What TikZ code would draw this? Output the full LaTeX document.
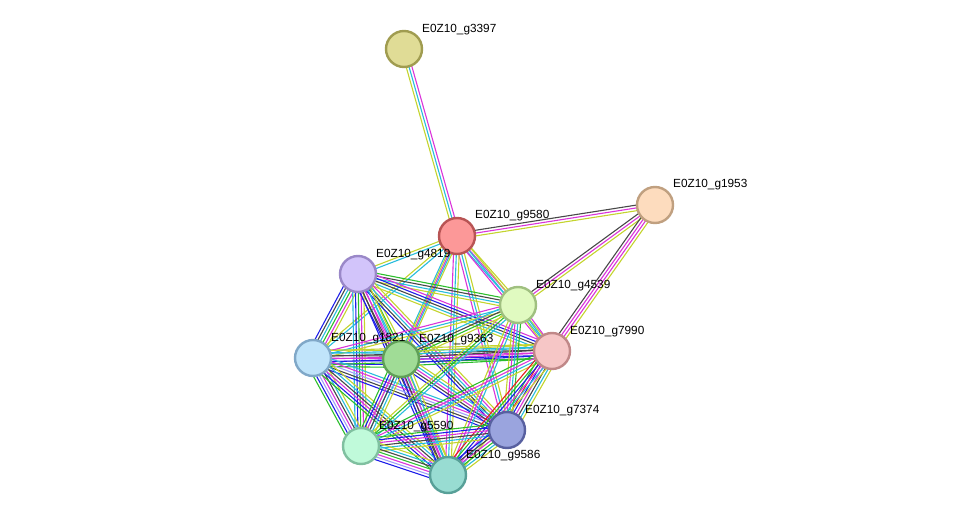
\documentclass[tikz,border=0pt]{standalone}
\usepackage{fontspec}
\setmainfont{Liberation Sans}
\usetikzlibrary{calc}
\pgfdeclarelayer{bg}
\pgfsetlayers{bg,main}
\definecolor{tm}{RGB}{196,212,46}
\definecolor{db}{RGB}{40,188,220}
\definecolor{ex}{RGB}{218,52,218}
\definecolor{cx}{RGB}{72,72,72}
\definecolor{co}{RGB}{30,30,232}
\definecolor{nb}{RGB}{44,190,44}
\definecolor{hm}{RGB}{160,160,250}
\definecolor{fu}{RGB}{232,32,32}
\definecolor{f3397}{RGB}{224,220,150}\definecolor{d3397}{RGB}{160,156,80}
\definecolor{f9580}{RGB}{252,152,152}\definecolor{d9580}{RGB}{184,84,84}
\definecolor{f1953}{RGB}{253,220,190}\definecolor{d1953}{RGB}{192,160,128}
\definecolor{f4819}{RGB}{210,196,250}\definecolor{d4819}{RGB}{154,136,200}
\definecolor{f4539}{RGB}{224,250,192}\definecolor{d4539}{RGB}{160,192,128}
\definecolor{f7990}{RGB}{246,198,198}\definecolor{d7990}{RGB}{192,136,136}
\definecolor{f1821}{RGB}{192,228,250}\definecolor{d1821}{RGB}{128,168,200}
\definecolor{f9363}{RGB}{160,220,150}\definecolor{d9363}{RGB}{96,160,88}
\definecolor{f7374}{RGB}{154,164,222}\definecolor{d7374}{RGB}{88,96,160}
\definecolor{f5590}{RGB}{192,250,218}\definecolor{d5590}{RGB}{128,192,160}
\definecolor{f9586}{RGB}{152,220,210}\definecolor{d9586}{RGB}{88,160,152}
\tikzset{
  prot/.style={circle, minimum size=36pt, inner sep=0pt, line width=2.4pt, fill=f#1, draw=d#1},
  lab/.style={anchor=west, inner sep=0pt, font=\fontsize{11.8}{13}\selectfont, text=black},
  eline/.style={line width=1.1pt}
}
\newcommand\sedge[3]{%
  \foreach \c [count=\i] in {#3} {\xdef\ncount{\i}}%
  \foreach \c [count=\i] in {#3} {%
    \pgfmathsetmacro\off{(\i-(\ncount+1)/2)*2.8}%
    \draw[\c, eline] ($(#1.center)!\off pt!90:(#2.center)$) -- ($(#2.center)!\off pt!-90:(#1.center)$);
  }%
}
\begin{document}
\begin{tikzpicture}[x=1pt,y=-1pt]
\useasboundingbox (0,0) rectangle (975,521);
\node[prot=3397] (n3397) at (404,49) {};
\node[prot=9580] (n9580) at (457,236) {};
\node[prot=1953] (n1953) at (655,205) {};
\node[prot=4819] (n4819) at (358,274) {};
\node[prot=4539] (n4539) at (518,305) {};
\node[prot=7990] (n7990) at (552,351) {};
\node[prot=1821] (n1821) at (313,358) {};
\node[prot=9363] (n9363) at (401,359) {};
\node[prot=7374] (n7374) at (507,430) {};
\node[prot=5590] (n5590) at (361,446) {};
\node[prot=9586] (n9586) at (448,475) {};
\node[lab] (l3397) at ($(n3397)+(18,-19.5)$) {E0Z10\_g3397};
\node[lab] (l9580) at ($(n9580)+(18,-20.5)$) {E0Z10\_g9580};
\node[lab] (l1953) at ($(n1953)+(18,-20.5)$) {E0Z10\_g1953};
\node[lab] (l4819) at ($(n4819)+(18,-19.5)$) {E0Z10\_g4819};
\node[lab] (l4539) at ($(n4539)+(18,-19.5)$) {E0Z10\_g4539};
\node[lab] (l7990) at ($(n7990)+(18,-19.5)$) {E0Z10\_g7990};
\node[lab] (l1821) at ($(n1821)+(18,-19.5)$) {E0Z10\_g1821};
\node[lab] (l9363) at ($(n9363)+(18,-19.5)$) {E0Z10\_g9363};
\node[lab] (l7374) at ($(n7374)+(18,-19.5)$) {E0Z10\_g7374};
\node[lab] (l5590) at ($(n5590)+(18,-19.5)$) {E0Z10\_g5590};
\node[lab] (l9586) at ($(n9586)+(18,-19.5)$) {E0Z10\_g9586};
\begin{pgfonlayer}{bg}
\sedge{n3397}{n9580}{tm,db,ex}
\sedge{n9580}{n1953}{tm,ex,cx}
\sedge{n1953}{n4539}{cx,ex,tm}
\sedge{n1953}{n7990}{cx,ex,ex,tm}
\sedge{n9580}{n4819}{tm,db}
\sedge{n9580}{n4539}{db,ex,tm}
\sedge{n9580}{n7990}{ex,db,tm}
\sedge{n9580}{n9363}{db,ex,tm}
\sedge{n9580}{n1821}{tm,db}
\sedge{n9580}{n7374}{ex,db,tm}
\sedge{n9580}{n5590}{tm,db}
\sedge{n9580}{n9586}{ex,db,tm}
\sedge{n4819}{n1821}{co,cx,db,nb,ex,tm}
\sedge{n4819}{n9363}{co,cx,ex,db,nb,tm}
\sedge{n4819}{n4539}{tm,db,cx,nb}
\sedge{n4819}{n7990}{tm,db,cx,co,ex}
\sedge{n4819}{n7374}{co,cx,db,ex,tm}
\sedge{n4819}{n5590}{db,co,nb,ex,tm}
\sedge{n4819}{n9586}{co,cx,ex,db,tm}
\sedge{n1821}{n9363}{nb,co,hm,ex,cx,db,tm}
\sedge{n1821}{n4539}{tm,db,ex}
\sedge{n1821}{n7990}{nb,co,ex,cx,db,tm}
\sedge{n1821}{n7374}{co,cx,hm,ex,db}
\sedge{n1821}{n5590}{nb,co,hm,ex,cx,db,tm}
\sedge{n1821}{n9586}{nb,co,ex,cx,db,tm}
\sedge{n9363}{n4539}{tm,nb,cx,db}
\sedge{n9363}{n7990}{nb,co,ex,cx,db,tm}
\sedge{n9363}{n7374}{co,cx,ex,db,tm}
\sedge{n9363}{n5590}{nb,co,ex,cx,db,tm}
\sedge{n9363}{n9586}{co,cx,ex,db,tm}
\sedge{n4539}{n7990}{tm,db,ex}
\sedge{n4539}{n7374}{tm,ex,db,nb}
\sedge{n4539}{n5590}{tm,nb,db}
\sedge{n4539}{n9586}{tm,ex,db}
\sedge{n7990}{n7374}{nb,fu,co,ex,cx,db,tm}
\sedge{n7990}{n5590}{nb,ex,db,tm}
\sedge{n7990}{n9586}{fu,nb,co,ex,db,tm}
\sedge{n7374}{n5590}{nb,co,ex,cx,db,tm}
\sedge{n7374}{n9586}{co,cx,ex,nb,db,tm}
\sedge{n5590}{n9586}{co,hm,ex,nb,cx,db,tm}
\end{pgfonlayer}
\end{tikzpicture}
\end{document}
